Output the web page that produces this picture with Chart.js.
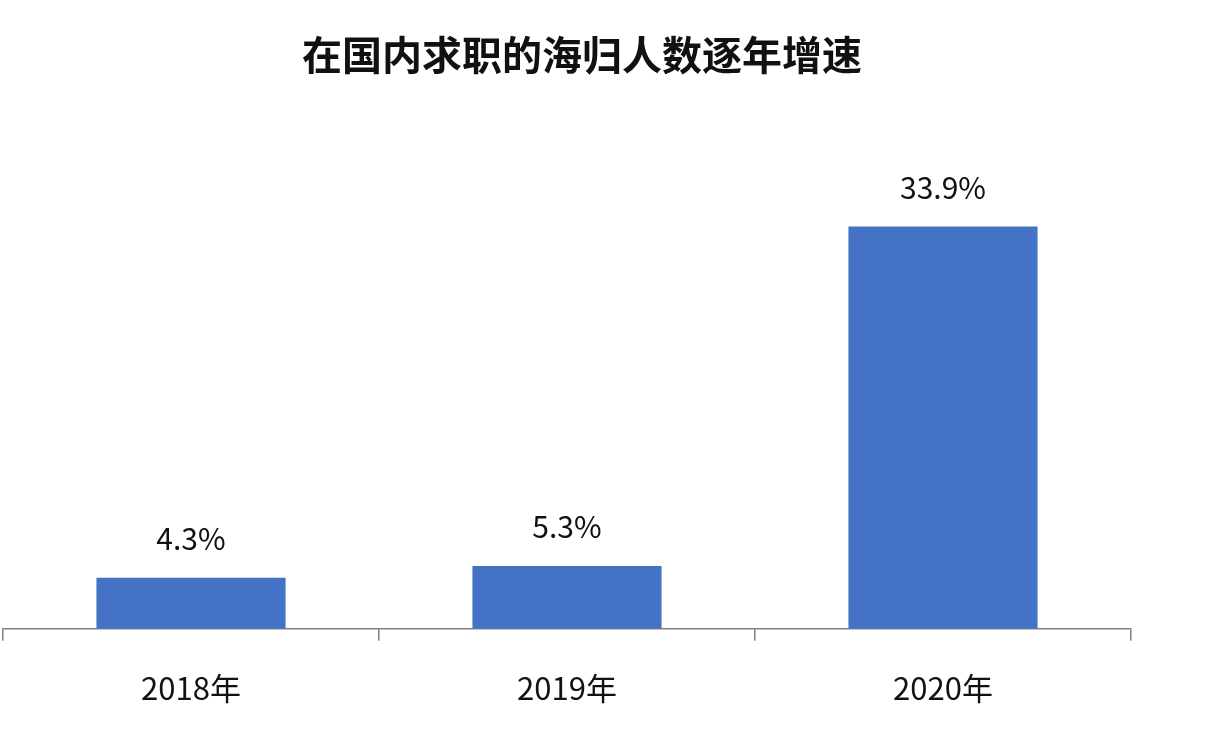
<!DOCTYPE html>
<html>
<head>
<meta charset="utf-8">
<script src="https://cdn.jsdelivr.net/npm/chart.js@4"></script>
<style>
  html, body { margin: 0; padding: 0; background: #fff; }
  #wrap { width: 1216px; height: 748px; }
</style>
</head>
<body>
<div id="wrap"><canvas id="growthChart"></canvas></div>
<script>
const chartTitle = '在国内求职的海归人数逐年增速';
const years = ['2018年', '2019年', '2020年'];
const growth = [4.3, 5.3, 33.9];

const FONT = "'Noto Sans CJK SC', 'Noto Sans', sans-serif";

// title + value labels drawn on top of the bars
const labelPlugin = {
  id: 'labels',
  afterDatasetsDraw(chart) {
    const { ctx } = chart;
    ctx.save();
    ctx.fillStyle = '#111';
    ctx.textAlign = 'center';
    ctx.textBaseline = 'middle';
    ctx.font = `bold 40px ${FONT}`;
    ctx.fillText(chartTitle, 582, 55);

    ctx.font = `30px ${FONT}`;
    chart.getDatasetMeta(0).data.forEach((bar, i) => {
      ctx.fillText(growth[i].toFixed(1) + '%', bar.x, bar.y - 39);
    });
    ctx.restore();
  }
};

new Chart(document.getElementById('growthChart'), {
  type: 'bar',
  data: {
    labels: years,
    datasets: [{
      data: growth,
      backgroundColor: '#4472C4',
      categoryPercentage: 1,
      barPercentage: 0.503,
    }]
  },
  options: {
    responsive: true, maintainAspectRatio: false,
    animation: false,
    layout: { padding: { left: 3, right: 85, top: 154, bottom: 12 } },
    plugins: { legend: { display: false }, tooltip: { enabled: false } },
    scales: {
      y: { display: false, min: 0, max: 40 },
      x: {
        offset: true,
        border: { display: true, color: '#808080', width: 1.5 },
        grid: { offset: true, drawOnChartArea: false, tickLength: 12, color: '#808080', lineWidth: 1.5 },
        ticks: { color: '#111', padding: 29, font: { family: FONT, size: 31 } }
      }
    }
  },
  plugins: [labelPlugin]
});
</script>
</body>
</html>
